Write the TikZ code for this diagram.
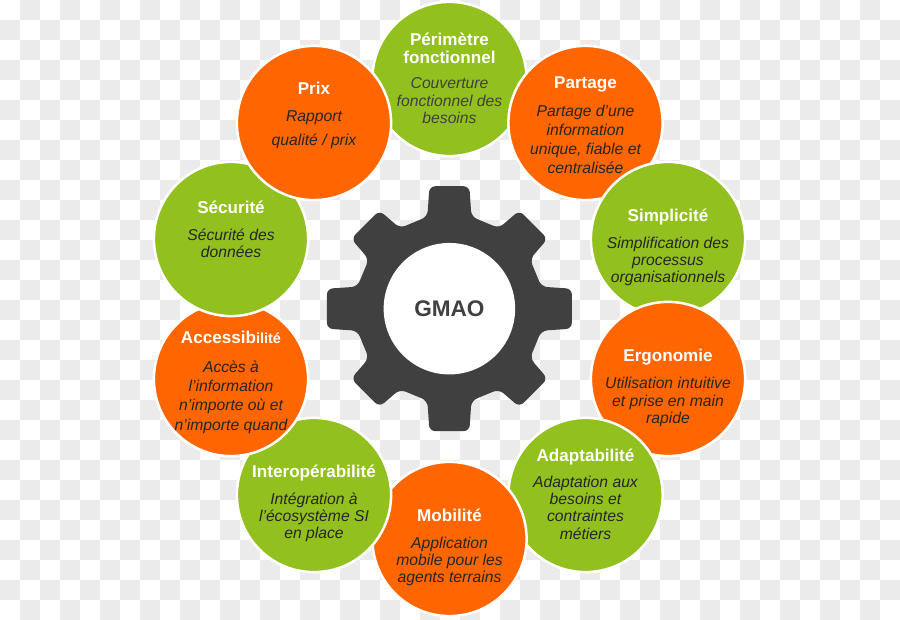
\documentclass[tikz,border=0pt]{standalone}
\usepackage{fontspec}
\setmainfont{Liberation Sans}
\usepackage{xcolor}
\definecolor{discgreen}{HTML}{92C01F}
\definecolor{discorange}{HTML}{FF6600}
\definecolor{geargray}{HTML}{404040}
\definecolor{checkgray}{HTML}{EBEBEB}
\definecolor{bodyink}{HTML}{262626}
\tikzset{
  greendisc/.style={circle,draw=white,line width=2.5pt,fill=discgreen,minimum size=154.2pt,inner sep=0pt},
  orangedisc/.style={circle,draw=white,line width=2.5pt,fill=discorange,minimum size=154.2pt,inner sep=0pt},
  titletext/.style={text=white,align=center,inner sep=0pt,anchor=base,font=\fontsize{17.1}{18.3}\bfseries\selectfont},
  bodytext/.style={text=bodyink,align=center,inner sep=0pt,anchor=base,font=\fontsize{15.7}{#1}\itshape\selectfont},
  bodytext/.default=17.3
}
\begin{document}
\begin{tikzpicture}[x=1pt,y=-1pt]
      \useasboundingbox (0,0) rectangle (900,620);
      % checker background
      \foreach \col in {0,...,44}{
        \foreach \row in {0,...,30}{
          \pgfmathparse{int(mod(\col+\row,2))}
          \ifnum\pgfmathresult=1
            \fill[checkgray] (20*\col,20*\row) rectangle ++(20,20);
          \fi
        }
      }
      % gear
      \begin{scope}[shift={(449.4,308.7)}]
      \fill[geargray,rounded corners=6pt] (86.3,-35.75)
        \foreach \tooth/\tip in {0/122.5,45/119,90/122.5,135/119,180/122.5,225/119,270/122.5,315/119}{
          -- ([rotate=-\tooth]92,-22) -- ([rotate=-\tooth]\tip,-20) -- ([rotate=-\tooth]\tip,20) -- ([rotate=-\tooth]92,22)
        } -- cycle;
      \end{scope}
      \node[circle,fill=white,minimum size=131.5pt,inner sep=0pt] (hub) at (449.4,308.7) {};
      \node[text=geargray,inner sep=0pt,anchor=base,font=\fontsize{22.6}{25}\bfseries\selectfont] (gmao) at (449.4,316.5) {GMAO};
      % discs, each one lying over the one before
      \node[greendisc] (perimetre) at (449.5,79) {};
      \node[titletext] (perimetretitle) at (449.5,64) {Périmètre\\fonctionnel};
      \node[bodytext=17.5,text=geargray] (perimetrebody) at (449.5,123.7) {Couverture\\fonctionnel des\\besoins};
      \node[orangedisc] (partage) at (585.5,123) {};
      \node[titletext] (partagetitle) at (585.5,88.3) {Partage};
      \node[bodytext=19.1] (partagebody) at (585.5,174) {Partage d’une\\information\\unique, fiable et\\centralisée};
      \node[greendisc] (simplicite) at (668,239) {};
      \node[titletext] (simplicitetitle) at (668,221.7) {Simplicité};
      \node[bodytext=17.2] (simplicitebody) at (668,282.7) {Simplification des\\processus\\organisationnels};
      \node[orangedisc] (ergonomie) at (668,379) {};
      \node[titletext] (ergonomietitle) at (668,362) {Ergonomie};
      \node[bodytext=17.3] (ergonomiebody) at (668,423.3) {Utilisation intuitive\\et prise en main\\rapide};
      \node[greendisc] (adaptabilite) at (585.5,495) {};
      \node[titletext] (adaptabilitetitle) at (585.5,461) {Adaptabilité};
      \node[bodytext=17.2] (adaptabilitebody) at (585.5,539) {Adaptation aux\\besoins et\\contraintes\\métiers};
      \node[orangedisc] (mobilite) at (449.5,539) {};
      \node[titletext] (mobilitetitle) at (449.5,521) {Mobilité};
      \node[bodytext=17.2] (mobilitebody) at (449.5,582.7) {Application\\mobile pour les\\agents terrains};
      \node[greendisc] (interop) at (314,495) {};
      \node[titletext] (interoptitle) at (314,477.3) {Interopérabilité};
      \node[bodytext=17.3] (interopbody) at (314,538.7) {Intégration à\\l’écosystème SI\\en place};
      \node[orangedisc] (acces) at (231,379) {};
      \node[titletext] (accestitle) at (231,343.7) {Accessib{\fontsize{14.5}{19}\selectfont ilité}};
      \node[bodytext=19.1] (accesbody) at (231,430) {Accès à\\l’information\\n’importe où et\\n’importe quand};
      \node[greendisc] (securite) at (231,239) {};
      \node[titletext] (securitetitle) at (231,213.3) {Sécurité};
      \node[bodytext=17] (securitebody) at (231,257.7) {Sécurité des\\données};
      \node[orangedisc] (prix) at (314,123) {};
      \node[titletext] (prixtitle) at (314,95) {Prix};
      \node[bodytext=23.7] (prixbody) at (314,145.7) {Rapport\\qualité / prix};
    \end{tikzpicture}
\end{document}
